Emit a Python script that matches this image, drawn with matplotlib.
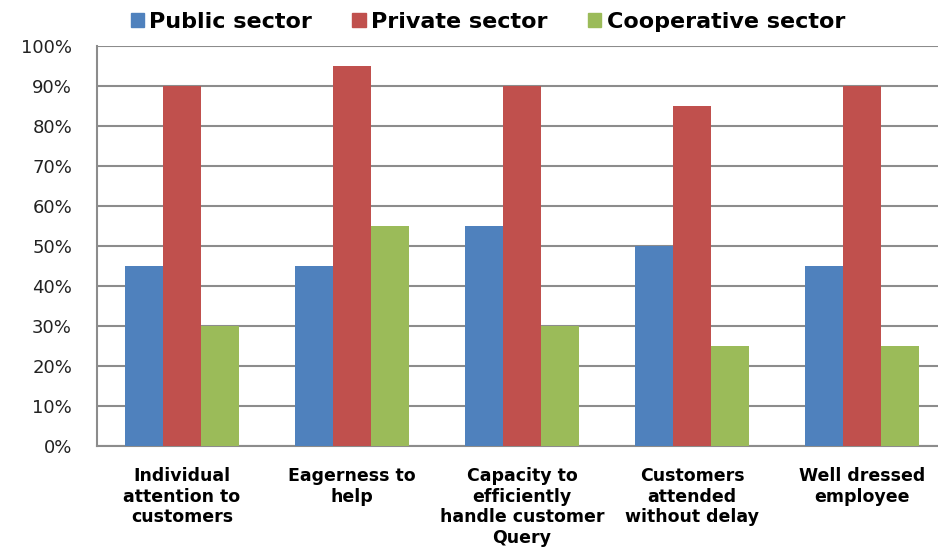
import numpy as np
import matplotlib
matplotlib.use("Agg")
import matplotlib.pyplot as plt
from matplotlib.patches import Patch

categories = ["Individual\nattention to\ncustomers", "Eagerness to\nhelp",
              "Capacity to\nefficiently\nhandle customer\nQuery",
              "Customers\nattended\nwithout delay", "Well dressed\nemployee"]
series = ["Public sector", "Private sector", "Cooperative sector"]
public = [45, 45, 55, 50, 45]
private = [90, 95, 90, 85, 90]
cooperative = [30, 55, 30, 25, 25]
yticks = [0, 10, 20, 30, 40, 50, 60, 70, 80, 90, 100]

colors = ["#4F81BD", "#C0504D", "#9BBB59"]

fig = plt.figure(figsize=(9.38, 5.53), dpi=100)
ax = fig.add_axes([97 / 938, 1 - 446 / 553, 1 - 97 / 938, 400 / 553])

x = np.arange(len(categories))
w = 0.225
for i, (vals, name) in enumerate(zip([public, private, cooperative], series)):
    ax.bar(x + (i - 1) * w, vals, w, color=colors[i], zorder=3, label=name)

ax.set_ylim(0, 100)
ax.set_xlim(-0.5, -0.5 + 841 / 170)
ax.set_yticks(yticks)
ax.set_yticklabels([f"{t}%" for t in yticks], fontsize=13, color="#222222")
ax.set_xticks(x)
ax.set_xticklabels(categories, fontsize=12.5, fontweight="bold", linespacing=1.2)
ax.tick_params(axis="x", length=0, pad=15)
ax.tick_params(axis="y", length=0, pad=18)
ax.grid(axis="y", color="#8c8c8c", linewidth=1.5, zorder=0)
for s in ["top", "right"]:
    ax.spines[s].set_visible(False)
for s in ["left", "bottom"]:
    ax.spines[s].set_color("#8c8c8c")
    ax.spines[s].set_linewidth(1.5)

handles = [Patch(color=c, label=n) for c, n in zip(colors, series)]
fig.legend(handles=handles, loc="center", bbox_to_anchor=(0.52, 1 - 22 / 553),
           ncol=3, frameon=False, prop={"weight": "bold", "size": 16},
           handlelength=0.6, handleheight=0.6, handletextpad=0.25, columnspacing=1.8)

fig.savefig("out.png", dpi=100)
